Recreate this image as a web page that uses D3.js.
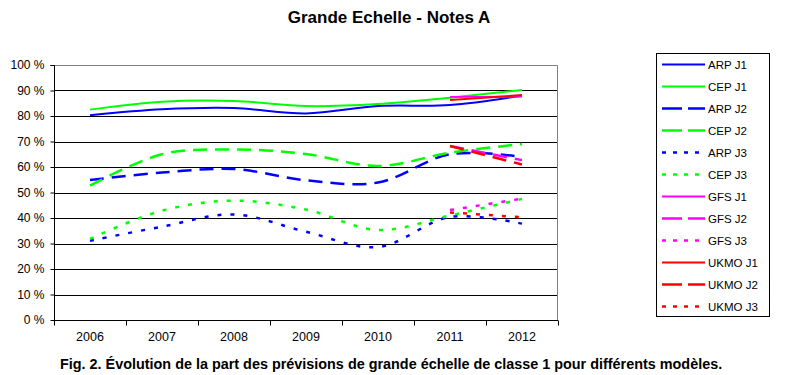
<!DOCTYPE html>
<html lang="fr">
<head>
<meta charset="UTF-8">
<title>Grande Echelle - Notes A</title>
<script src="https://d3js.org/d3.v7.min.js"></script>
<style>
  body { margin: 0; background: #ffffff; }
  text { font-family: "Liberation Sans", Arial, sans-serif; fill: #000; }
</style>
</head>
<body>
<div id="chart"></div>
<script>
// data
var years = ["2006", "2007", "2008", "2009", "2010", "2011", "2012"];
var yTicks = [0, 10, 20, 30, 40, 50, 60, 70, 80, 90, 100];

var arpJ1 = [80.3, 82.6, 83.1, 81.0, 83.9, 84.3, 88.0];
var cepJ1 = [82.5, 85.6, 85.9, 83.9, 84.7, 87.2, 90.2];
var arpJ2 = [54.9, 57.8, 59.2, 54.8, 53.9, 65.0, 64.0];
var cepJ2 = [52.7, 65.0, 66.9, 65.1, 60.4, 65.6, 69.0];
var arpJ3 = [31.1, 36.6, 41.4, 34.6, 28.6, 40.4, 37.8];
var cepJ3 = [31.8, 42.9, 46.8, 43.3, 35.3, 41.0, 47.5];
var gfsJ1 = [null, null, null, null, null, 87.5, 87.6];
var gfsJ2 = [null, null, null, null, null, 68.2, 62.7];
var gfsJ3 = [null, null, null, null, null, 43.1, 47.6];
var ukmoJ1 = [null, null, null, null, null, 86.3, 88.2];
var ukmoJ2 = [null, null, null, null, null, 68.2, 61.0];
var ukmoJ3 = [null, null, null, null, null, 42.2, 40.3];

var series = [
  {name: "ARP J1", values: arpJ1, color: "#0000ff", style: "solid"},
  {name: "CEP J1", values: cepJ1, color: "#00ff00", style: "solid"},
  {name: "ARP J2", values: arpJ2, color: "#0000ff", style: "dash"},
  {name: "CEP J2", values: cepJ2, color: "#00ff00", style: "dash"},
  {name: "ARP J3", values: arpJ3, color: "#0000ff", style: "dot"},
  {name: "CEP J3", values: cepJ3, color: "#00ff00", style: "dot"},
  {name: "GFS J1", values: gfsJ1, color: "#ff00ff", style: "solid"},
  {name: "GFS J2", values: gfsJ2, color: "#ff00ff", style: "dash"},
  {name: "GFS J3", values: gfsJ3, color: "#ff00ff", style: "dot"},
  {name: "UKMO J1", values: ukmoJ1, color: "#ff0000", style: "solid"},
  {name: "UKMO J2", values: ukmoJ2, color: "#ff0000", style: "dash"},
  {name: "UKMO J3", values: ukmoJ3, color: "#ff0000", style: "dot"}
];

var dashes = {solid: null, dash: "14,8", dot: "4,9"};
var widths = {solid: 2, dash: 2.5, dot: 2.5};

// dimensions
var W = 787, H = 375;
var margin = {top: 65, left: 54, right: 229, bottom: 55};
var width = W - margin.left - margin.right,
    height = H - margin.top - margin.bottom;

var svg = d3.select("#chart")
  .append("svg")
    .attr("width", W)
    .attr("height", H);

var g = svg.append("g")
    .attr("transform", "translate(" + margin.left + "," + margin.top + ")");

var x = d3.scaleBand()
    .domain(years)
    .range([0, width]);

var y = d3.scaleLinear()
    .domain([0, 100])
    .range([height, 0]);

// title
svg.append("text")
    .attr("x", 389)
    .attr("y", 23)
    .attr("text-anchor", "middle")
    .style("font-size", "17px")
    .style("font-weight", "bold")
    .text("Grande Echelle - Notes A");

// grid lines
g.selectAll(".grid")
  .data(yTicks.filter(function(d) { return d > 0 && d < 100; }))
  .enter()
  .append("line")
    .attr("x1", 0)
    .attr("x2", width)
    .attr("y1", function(d) { return Math.round(y(d)) + 0.5; })
    .attr("y2", function(d) { return Math.round(y(d)) + 0.5; })
    .attr("stroke", "#000")
    .attr("stroke-width", 1);

// plot border (top + right)
g.append("path")
    .attr("d", "M0.5,0.5H" + (width - 0.5) + "V" + height)
    .attr("fill", "none")
    .attr("stroke", "#808080")
    .attr("stroke-width", 1);

// y axis
var yAxis = g.append("g")
    .attr("transform", "translate(0.5,0)")
    .call(d3.axisLeft(y).tickValues(yTicks).tickSize(4).tickFormat(function(d) { return d + " %"; }));
yAxis.selectAll("path, line").attr("stroke", "#000");
yAxis.selectAll("text")
    .attr("x", -10)
    .style("font-size", "12px")
    .style("font-family", "'Liberation Sans', Arial, sans-serif");
yAxis.select(".domain").attr("d", "M-4,0.5H0V" + height);

// x axis
var xAxis = g.append("g")
    .attr("transform", "translate(0," + (height + 0.5) + ")")
    .call(d3.axisBottom(x).tickSize(0));
xAxis.select(".domain").attr("stroke", "#000").attr("d", "M0,0H" + width);
xAxis.selectAll("text")
    .attr("y", 12)
    .style("font-size", "12.5px")
    .style("font-family", "'Liberation Sans', Arial, sans-serif");
// tick marks between categories
xAxis.selectAll(".sep")
  .data(d3.range(years.length + 1))
  .enter()
  .append("line")
    .attr("x1", function(i) { return Math.round(i * x.step()) + 0.5; })
    .attr("x2", function(i) { return Math.round(i * x.step()) + 0.5; })
    .attr("y1", 0)
    .attr("y2", 5)
    .attr("stroke", "#000");

// lines
var line = d3.line()
    .defined(function(d) { return d.v != null; })
    .x(function(d) { return x(d.year) + x.bandwidth() / 2; })
    .y(function(d) { return y(d.v); })
    .curve(d3.curveCatmullRom.alpha(0.5));

g.selectAll(".serie")
  .data(series)
  .enter()
  .append("path")
    .attr("fill", "none")
    .attr("stroke", function(d) { return d.color; })
    .attr("stroke-width", function(d) { return widths[d.style]; })
    .attr("stroke-dasharray", function(d) { return dashes[d.style]; })
    .attr("d", function(d) {
      var pts = d.values.map(function(v, i) { return {year: years[i], v: v}; })
        .filter(function(p) { return p.v != null; });
      return line(pts);
    });

// legend
var lg = svg.append("g").attr("transform", "translate(656,53)");
lg.append("rect")
    .attr("x", 0.5)
    .attr("y", 0.5)
    .attr("width", 113)
    .attr("height", 263)
    .attr("fill", "#fff")
    .attr("stroke", "#000");

var item = lg.selectAll(".item")
  .data(series)
  .enter()
  .append("g")
    .attr("transform", function(d, i) { return "translate(0," + (11 + i * 22) + ")"; });

item.append("line")
    .attr("x1", 6)
    .attr("x2", 49)
    .attr("y1", 0.5)
    .attr("y2", 0.5)
    .attr("stroke", function(d) { return d.color; })
    .attr("stroke-width", function(d) { return widths[d.style]; })
    .attr("stroke-dasharray", function(d) { return d.style == "dash" ? "20,6" : d.style == "dot" ? "4,7" : null; });

item.append("text")
    .attr("x", 52)
    .attr("y", 4.5)
    .style("font-size", "11.5px")
    .text(function(d) { return d.name; });

// caption
svg.append("text")
    .attr("x", 60)
    .attr("y", 369)
    .style("font-size", "14.4px")
    .style("font-weight", "bold")
    .text("Fig. 2. Évolution de la part des prévisions de grande échelle de classe 1 pour différents modèles.");
</script>
</body>
</html>
